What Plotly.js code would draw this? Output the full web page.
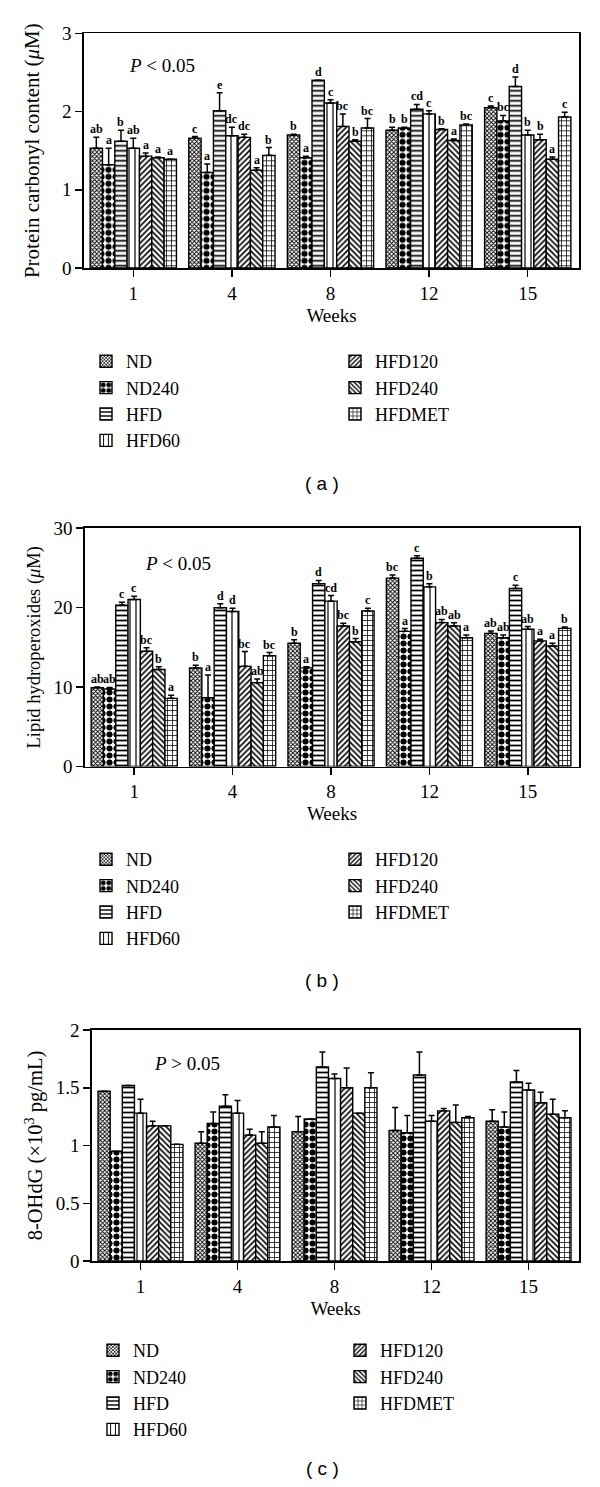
<!DOCTYPE html>
<html>
<head>
<meta charset="utf-8">
<script src="https://cdn.plot.ly/plotly-3.0.1.min.js"></script>
<style>html,body{margin:0;padding:0;background:#fff;}#chart{width:600px;height:1487px;}</style>
</head>
<body>
<div id="chart"></div>
<script>
// ---------- DATA ----------
const weeks = ["1", "4", "8", "12", "15"];
const groups = ["ND", "ND240", "HFD", "HFD60", "HFD120", "HFD240", "HFDMET"];

// Panel (a): protein carbonyl content (µM)
const carbonylMean = [
  [1.53, 1.66, 1.70, 1.76, 2.05],
  [1.32, 1.22, 1.41, 1.79, 1.88],
  [1.62, 2.01, 2.40, 2.03, 2.32],
  [1.53, 1.69, 2.11, 1.97, 1.70],
  [1.43, 1.67, 1.81, 1.77, 1.64],
  [1.41, 1.25, 1.62, 1.63, 1.39],
  [1.39, 1.44, 1.79, 1.83, 1.93]
];
const carbonylSE = [
  [0.14, 0.02, 0.01, 0.04, 0.02],
  [0.21, 0.11, 0.02, 0.01, 0.07],
  [0.14, 0.23, 0.00, 0.06, 0.12],
  [0.13, 0.11, 0.04, 0.04, 0.06],
  [0.04, 0.04, 0.16, 0.01, 0.07],
  [0.01, 0.03, 0.02, 0.02, 0.03],
  [0.00, 0.10, 0.12, 0.01, 0.06]
];
const carbonylLetters = [
  ["ab", "c", "b", "b", "c"],
  ["a", "a", "a", "b", "bc"],
  ["b", "e", "d", "cd", "d"],
  ["ab", "dc", "c", "c", "b"],
  ["a", "dc", "bc", "b", "b"],
  ["a", "a", "b", "a", "a"],
  ["a", "b", "bc", "bc", "c"]
];

// Panel (b): lipid hydroperoxides (µM)
const lipidMean = [
  [9.9, 12.4, 15.5, 23.7, 16.75],
  [9.75, 8.66, 12.4, 17.0, 16.2],
  [20.3, 19.97, 23.0, 26.2, 22.4],
  [21.0, 19.5, 20.8, 22.6, 17.26],
  [14.5, 12.6, 17.67, 18.1, 15.8],
  [12.2, 10.55, 15.7, 17.67, 15.16],
  [8.57, 13.94, 19.56, 16.2, 17.38]
];
const lipidSE = [
  [0.1, 0.35, 0.45, 0.4, 0.3],
  [0.2, 2.85, 0.15, 0.35, 0.35],
  [0.35, 0.5, 0.4, 0.3, 0.4],
  [0.4, 0.4, 0.7, 0.4, 0.35],
  [0.45, 1.85, 0.35, 0.4, 0.2],
  [0.35, 0.45, 0.4, 0.4, 0.35],
  [0.4, 0.4, 0.35, 0.35, 0.17]
];
const lipidLetters = [
  ["ab", "b", "b", "bc", "ab"],
  ["ab", "a", "a", "a", "ab"],
  ["c", "d", "d", "c", "c"],
  ["c", "d", "cd", "b", "ab"],
  ["bc", "bc", "bc", "ab", "a"],
  ["b", "ab", "b", "ab", "a"],
  ["a", "bc", "c", "a", "b"]
];

// Panel (c): 8-OHdG (x10^3 pg/mL)
const ohdgMean = [
  [1.47, 1.02, 1.12, 1.13, 1.21],
  [0.95, 1.19, 1.23, 1.11, 1.16],
  [1.52, 1.34, 1.68, 1.61, 1.55],
  [1.28, 1.28, 1.58, 1.21, 1.48],
  [1.17, 1.09, 1.50, 1.30, 1.37],
  [1.17, 1.02, 1.28, 1.20, 1.27],
  [1.01, 1.16, 1.50, 1.24, 1.24]
];
const ohdgSE = [
  [0.00, 0.10, 0.13, 0.20, 0.10],
  [0.00, 0.10, 0.00, 0.15, 0.13],
  [0.00, 0.10, 0.13, 0.20, 0.10],
  [0.12, 0.11, 0.04, 0.05, 0.06],
  [0.04, 0.05, 0.17, 0.02, 0.09],
  [0.00, 0.10, 0.00, 0.15, 0.13],
  [0.00, 0.10, 0.13, 0.01, 0.06]
];

const panelTitles = [
  "Protein carbonyl content (<i>μ</i>M)",
  "Lipid hydroperoxides (<i>μ</i>M)",
  "8-OHdG (×10<sup>3</sup> pg/mL)"
];
const pTexts = ["<i>P</i> &lt; 0.05", "<i>P</i> &lt; 0.05", "<i>P</i> &gt; 0.05"];
const panelLabels = ["( a )", "( b )", "( c )"];

// ---------- STYLE ----------
const W = 600, H = 1487;
const X = p => p / W;
const Y = p => 1 - p / H;
const SERIF = "Liberation Serif, Times New Roman, serif";

const patterns = [
  {shape: "x", size: 3, solidity: 0.5},
  {shape: ".", size: 7, solidity: 0.6},
  {shape: "-", size: 5, solidity: 0.35},
  {shape: "|", size: 6, solidity: 0.2},
  {shape: "/", size: 4, solidity: 0.4},
  {shape: "\\", size: 4, solidity: 0.4},
  {shape: "+", size: 5, solidity: 0.28}
];

const panels = [
  {mean: carbonylMean, se: carbonylSE, letters: carbonylLetters, range: [0, 3], dtick: 1,
   x: [84, 579], y: [33.3, 268], titleSize: 21, standoff: 16},
  {mean: lipidMean, se: lipidSE, letters: lipidLetters, range: [0, 30], dtick: 10,
   x: [85, 579], y: [528, 766.5], titleSize: 18.5, standoff: 8},
  {mean: ohdgMean, se: ohdgSE, letters: null, range: [0, 2], dtick: 0.5,
   x: [92, 579], y: [1030, 1261], titleSize: 20.5, standoff: 7}
];

const legendPos = [
  {left: [86, 343], right: [335, 343]},
  {left: [86, 841], right: [335, 841]},
  {left: [93, 1332], right: [340, 1332]}
];

const bargap = 0.125;
const nG = groups.length;
const bw = (1 - bargap) / nG;
const xIdx = weeks.map((w, i) => i);

const traces = [];
const annotations = [];
const layout = {
  width: W, height: H,
  margin: {l: 0, r: 0, t: 0, b: 0},
  paper_bgcolor: "#fff", plot_bgcolor: "#fff",
  barmode: "group", bargap: bargap, bargroupgap: 0,
  font: {family: SERIF, color: "#000", size: 19},
  showlegend: true
};

panels.forEach((p, pi) => {
  const ax = pi === 0 ? "" : String(pi + 1);
  const legL = "legend" + (pi === 0 ? "" : String(pi * 2 + 1));
  const legR = "legend" + String(pi * 2 + 2);
  groups.forEach((g, gi) => {
    traces.push({
      type: "bar",
      name: g,
      x: xIdx,
      y: p.mean[gi],
      xaxis: "x" + ax, yaxis: "y" + ax,
      legend: gi < 4 ? legL : legR,
      marker: {
        color: "#fff",
        line: {color: "#000", width: 1.4},
        pattern: Object.assign({fgcolor: "#000", bgcolor: "#fff", fillmode: "replace"}, patterns[gi])
      },
      error_y: {
        type: "data", symmetric: false,
        array: p.se[gi], arrayminus: p.se[gi].map(() => 0),
        color: "#000", thickness: 1.5, width: 3
      },
      hoverinfo: "skip"
    });
    if (p.letters) {
      p.letters[gi].forEach((txt, wi) => {
        annotations.push({
          xref: "x" + ax, yref: "y" + ax,
          x: wi - (1 - bargap) / 2 + (gi + 0.5) * bw,
          y: p.mean[gi][wi] + p.se[gi][wi],
          text: txt, showarrow: false, yanchor: "bottom", xanchor: "center",
          borderpad: 0, yshift: 0,
          font: {family: SERIF, size: 12, weight: "bold", color: "#000"}
        });
      });
    }
  });

  layout["xaxis" + ax] = {
    domain: [X(p.x[0]), X(p.x[1])],
    anchor: "y" + ax,
    range: [-0.5, 4.52],
    tickmode: "array", tickvals: xIdx, ticktext: weeks,
    ticks: "outside", ticklen: 7, tickwidth: 1.5, tickcolor: "#000",
    showline: true, linecolor: "#000", linewidth: 1.8, mirror: true,
    showgrid: false, zeroline: false,
    tickfont: {family: SERIF, size: 19},
    title: {text: "Weeks", font: {family: SERIF, size: 19}, standoff: 6}
  };
  layout["yaxis" + ax] = {
    domain: [Y(p.y[1]), Y(p.y[0])],
    anchor: "x" + ax,
    range: p.range, dtick: p.dtick, tick0: 0,
    ticks: "outside", ticklen: 7, tickwidth: 1.5, tickcolor: "#000",
    showline: true, linecolor: "#000", linewidth: 1.8, mirror: true,
    showgrid: false, zeroline: false,
    tickfont: {family: SERIF, size: 19},
    title: {text: panelTitles[pi], font: {family: SERIF, size: p.titleSize}, standoff: p.standoff}
  };

  const lp = legendPos[pi];
  const legStyle = {
    xanchor: "left", yanchor: "top",
    bgcolor: "rgba(0,0,0,0)", borderwidth: 0,
    font: {family: SERIF, size: 18, color: "#000"},
    tracegroupgap: 0, itemclick: false, itemdoubleclick: false
  };
  layout[legL] = Object.assign({x: X(lp.left[0]), y: Y(lp.left[1])}, legStyle);
  layout[legR] = Object.assign({x: X(lp.right[0]), y: Y(lp.right[1])}, legStyle);
});

// P-value notes
const pPos = [[127, 65], [143, 563], [152, 1063]];
pTexts.forEach((t, i) => {
  annotations.push({
    xref: "paper", yref: "paper", x: X(pPos[i][0]), y: Y(pPos[i][1]),
    xanchor: "left", yanchor: "middle", text: t, showarrow: false,
    font: {family: SERIF, size: 19, color: "#000"}
  });
});
// Panel labels
const labPos = [[322, 483], [322, 980], [322, 1468]];
panelLabels.forEach((t, i) => {
  annotations.push({
    xref: "paper", yref: "paper", x: X(labPos[i][0]), y: Y(labPos[i][1]),
    xanchor: "center", yanchor: "middle", text: t, showarrow: false,
    font: {family: "Liberation Sans, Arial, sans-serif", size: 19, color: "#000"}
  });
});

layout.annotations = annotations;

Plotly.newPlot("chart", traces, layout, {staticPlot: true, displayModeBar: false});
</script>
</body>
</html>
